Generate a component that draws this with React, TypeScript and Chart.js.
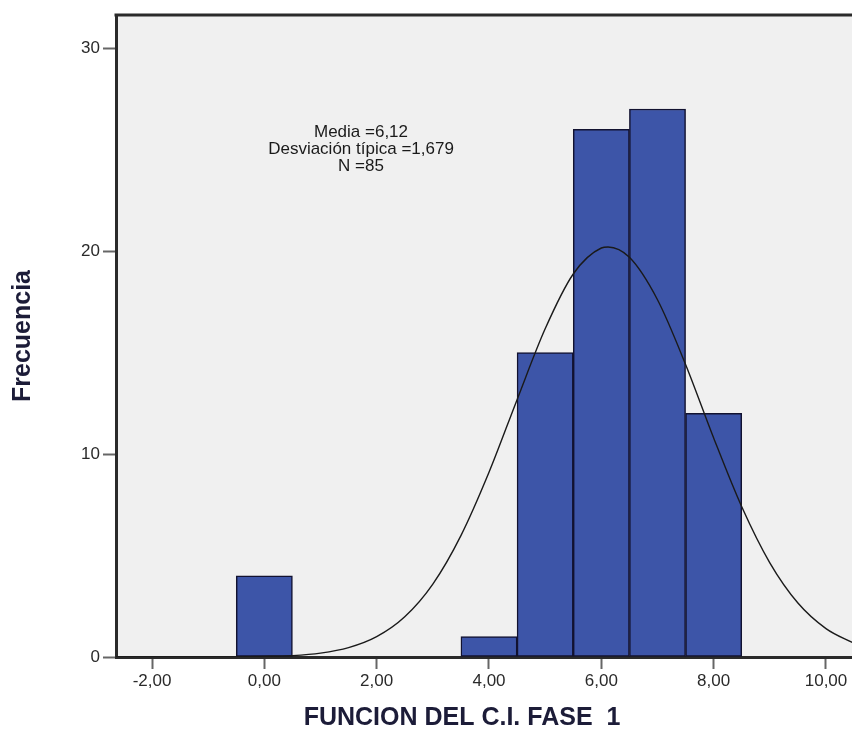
import React, { useEffect, useRef } from "react";
import { Chart, registerables } from "chart.js";

Chart.register(...registerables);

// Histogram bins (centre of each 1-unit bin) and their frequencies
const binCenters = [0, 4, 5, 6, 7, 8];
const binCounts = [4, 1, 15, 26, 27, 12];

// Normal curve overlay
const curveX = [-2.7, -1, 0, 0.5, 1, 1.5, 2, 2.5, 3, 3.5, 4, 4.5, 5, 5.5, 6, 6.12, 6.5, 7, 7.5, 8, 8.5, 9, 9.5, 10, 10.5];
const curveY = [0, 0, 0.03, 0.07, 0.19, 0.46, 1.0, 1.98, 3.59, 5.98, 9.1, 12.68, 16.17, 18.87, 20.15, 20.2, 19.69, 17.6, 14.41, 10.79, 7.4, 4.64, 2.66, 1.4, 0.67];

const xTickValues = [-2, 0, 2, 4, 6, 8, 10];
const xTickLabels = ["-2,00", "0,00", "2,00", "4,00", "6,00", "8,00", "10,00"];
const yTickValues = [0, 10, 20, 30];
const yTickLabels = ["0", "10", "20", "30"];

const statsLines = ["Media =6,12", "Desviación típica =1,679", "N =85"];
const xTitle = "FUNCION DEL C.I. FASE  1";
const yTitle = "Frecuencia";

const X_MIN = -2.641;
const X_MAX = 10.463;
const Y_MIN = 0;
const Y_MAX = 31.63;

const frameAndText = {
  id: "frameAndText",
  beforeDraw(chart: any) {
    const { ctx, chartArea } = chart;
    ctx.save();
    ctx.fillStyle = "#F0F0F0";
    ctx.fillRect(chartArea.left, chartArea.top, chartArea.right - chartArea.left, chartArea.bottom - chartArea.top);
    ctx.restore();
  },
  afterDraw(chart: any) {
    const { ctx, chartArea } = chart;
    ctx.save();
    // top frame line
    ctx.strokeStyle = "#2a2a2a";
    ctx.lineWidth = 3;
    ctx.beginPath();
    ctx.moveTo(chartArea.left - 1.5, chartArea.top);
    ctx.lineTo(chartArea.right, chartArea.top);
    ctx.stroke();

    // stats text
    ctx.fillStyle = "#1a1a1a";
    ctx.font = "17px 'Liberation Sans', Arial, sans-serif";
    ctx.textAlign = "center";
    ctx.textBaseline = "alphabetic";
    const cx = chartArea.left + 245;
    statsLines.forEach((t, i) => {
      ctx.fillText(t, cx, chartArea.top + 122 + i * 17);
    });

    // x axis title
    ctx.fillStyle = "#1c1c38";
    ctx.font = "bold 25px 'Liberation Sans', Arial, sans-serif";
    ctx.textAlign = "center";
    ctx.fillText(xTitle, chartArea.left + 346, chartArea.bottom + 68);
    ctx.restore();
  },
};

export default function App() {
  const canvasRef = useRef<HTMLCanvasElement | null>(null);

  useEffect(() => {
    const canvas = canvasRef.current;
    if (!canvas) return;
    const chart = new Chart(canvas, {
      type: "bar",
      data: {
        datasets: [
          {
            type: "line",
            data: curveX.map((x, i) => ({ x, y: curveY[i] })),
            borderColor: "#1a1a1a",
            borderWidth: 1.4,
            pointRadius: 0,
            fill: false,
            cubicInterpolationMode: "monotone",
            order: 1,
          } as any,
          {
            type: "bar",
            data: binCenters.map((x, i) => ({ x, y: binCounts[i] })),
            backgroundColor: "#3D55A8",
            borderColor: "#121230",
            borderWidth: 1.5,
            borderSkipped: false,
            barPercentage: 1,
            categoryPercentage: 1,
            order: 2,
          } as any,
        ],
      },
      options: {
        animation: false,
        responsive: false,
        maintainAspectRatio: false,
        layout: { padding: { top: 15, left: 0, right: 0, bottom: 0 } },
        plugins: {
          legend: { display: false },
          tooltip: { enabled: false },
        },
        scales: {
          x: {
            type: "linear",
            offset: false,
            min: X_MIN,
            max: X_MAX,
            afterBuildTicks: (scale: any) => {
              scale.ticks = xTickValues.map((v) => ({ value: v }));
            },
            afterFit: (scale: any) => {
              scale.height = 72;
            },
            ticks: {
              autoSkip: false,
              maxRotation: 0,
              padding: 2,
              color: "#2a2a2a",
              font: { family: "'Liberation Sans', Arial, sans-serif", size: 17 },
              callback: (value: any) => {
                const i = xTickValues.indexOf(Number(value));
                return i >= 0 ? xTickLabels[i] : "";
              },
            },
            grid: {
              offset: false,
              drawOnChartArea: false,
              drawTicks: true,
              tickLength: 12,
              tickColor: "#666666",
              tickWidth: 2,
            },
            border: { display: true, color: "#2a2a2a", width: 3 },
          },
          y: {
            type: "linear",
            min: Y_MIN,
            max: Y_MAX,
            afterBuildTicks: (scale: any) => {
              scale.ticks = yTickValues.map((v) => ({ value: v }));
            },
            afterFit: (scale: any) => {
              scale.width = 116;
            },
            ticks: {
              autoSkip: false,
              padding: 3,
              color: "#2a2a2a",
              font: { family: "'Liberation Sans', Arial, sans-serif", size: 17 },
              callback: (value: any) => {
                const i = yTickValues.indexOf(Number(value));
                return i >= 0 ? yTickLabels[i] : "";
              },
            },
            grid: {
              drawOnChartArea: false,
              drawTicks: true,
              tickLength: 13,
              tickColor: "#666666",
              tickWidth: 2,
            },
            border: { display: true, color: "#2a2a2a", width: 3 },
            title: {
              display: true,
              text: yTitle,
              color: "#1c1c38",
              padding: { top: 8, bottom: 0 },
              font: { family: "'Liberation Sans', Arial, sans-serif", size: 25, weight: "bold", lineHeight: 1.2 },
            },
          },
        },
      },
      plugins: [frameAndText],
    });
    return () => chart.destroy();
  }, []);

  return (
    <div style={{ position: "fixed", left: 0, top: 0, width: 852, height: 729, background: "#ffffff" }}>
      <canvas ref={canvasRef} width={852} height={729} style={{ display: "block" }} />
    </div>
  );
}
